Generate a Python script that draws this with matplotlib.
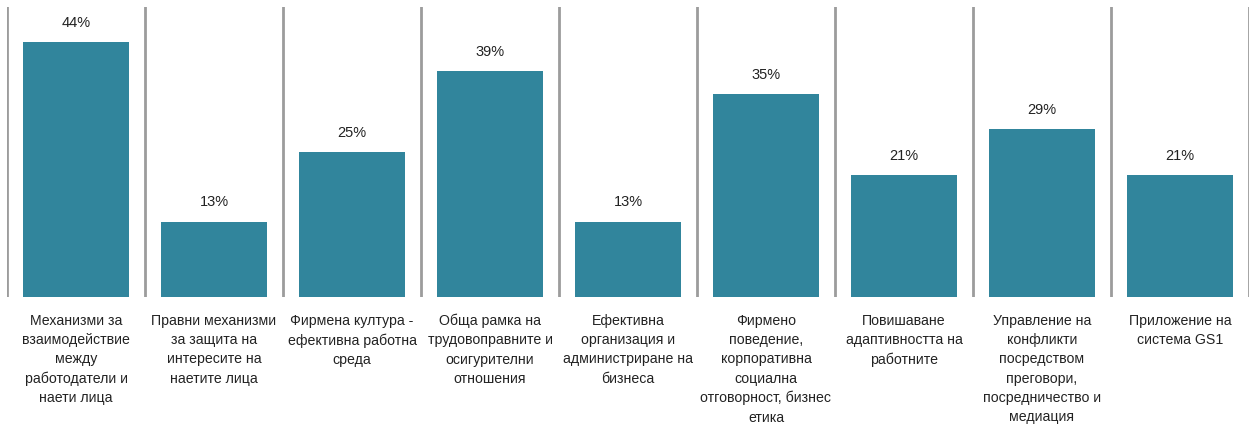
import numpy as np
from matplotlib import pyplot as plt

plt.rcParams['font.family'] = ['Liberation Sans', 'DejaVu Sans']

categories = [
    'Механизми за\nвзаимодействие\nмежду\nработодатели и\nнаети лица',
    'Правни механизми\nза защита на\nинтересите на\nнаетите лица',
    'Фирмена култура -\nефективна работна\nсреда',
    'Обща рамка на\nтрудовоправните и\nосигурителни\nотношения',
    'Ефективна\nорганизация и\nадминистриране на\nбизнеса',
    'Фирмено\nповедение,\nкорпоративна\nсоциална\nотговорност, бизнес\nетика',
    'Повишаване\nадаптивността на\nработните',
    'Управление на\nконфликти\nпосредством\nпреговори,\nпосредничество и\nмедиация',
    'Приложение на\nсистема GS1',
]
values = [44, 13, 25, 39, 13, 35, 21, 29, 21]

fig = plt.figure(figsize=(12.55, 4.28), dpi=100)
ax = fig.add_axes([0.0056, 0.306, 0.9896, 0.6778])

x = np.arange(len(values))
bars = ax.bar(x, values, width=0.77, color='#31859c', zorder=2)

# thin grey dividers between the categories
for pos in np.arange(-0.5, len(values), 1.0):
    ax.axvline(pos, color='#9c9c9c', linewidth=2, zorder=1)

for b, v in zip(bars, values):
    ax.text(b.get_x() + b.get_width() / 2, v + 2.1, f'{v}%',
            ha='center', va='bottom', fontsize=10.5, color='#222222')

ax.set_xlim(-0.5, len(values) - 0.5)
ax.set_ylim(0, 50)
ax.set_xticks(x)
ax.set_xticklabels(categories, fontsize=10.2, color='#222222', linespacing=1.48)
ax.tick_params(axis='x', length=0, pad=12)
ax.set_yticks([])
for s in ax.spines.values():
    s.set_visible(False)

fig.savefig('out.png', dpi=100)
